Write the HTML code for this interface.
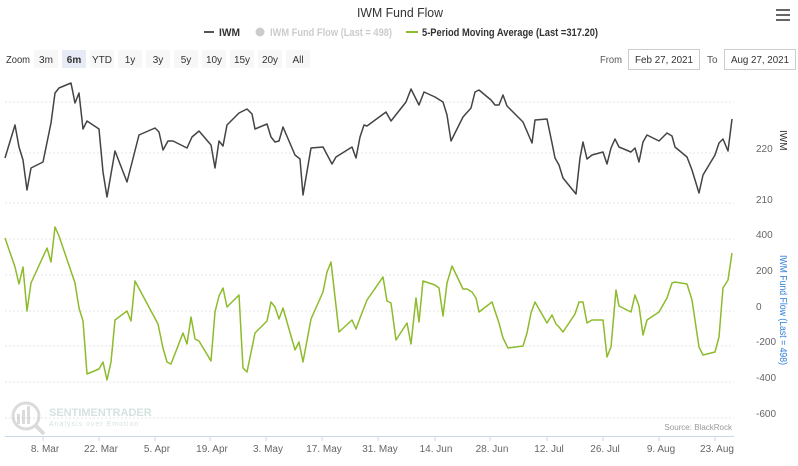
<!DOCTYPE html>
<html><head><style>
body{margin:0;background:#fff;font-family:"Liberation Sans",sans-serif;}
svg text{font-family:"Liberation Sans",sans-serif;}
</style></head><body>
<svg width="798" height="461" xmlns="http://www.w3.org/2000/svg">
<rect width="798" height="461" fill="#fff"/>
<text x="400" y="17" text-anchor="middle" font-size="13" fill="#333" textLength="86" lengthAdjust="spacingAndGlyphs">IWM Fund Flow</text>
<g fill="#666"><rect x="776" y="9" width="14" height="2"/><rect x="776" y="14" width="14" height="2"/><rect x="776" y="19" width="14" height="2"/></g>
<g font-size="11" font-weight="bold">
<rect x="204" y="31" width="10" height="2" fill="#555"/><text x="219" y="36" fill="#333" textLength="21" lengthAdjust="spacingAndGlyphs">IWM</text>
<circle cx="260" cy="32" r="4.5" fill="#ccc"/><text x="270" y="36" fill="#ccc" textLength="122" lengthAdjust="spacingAndGlyphs">IWM Fund Flow (Last = 498)</text>
<rect x="406" y="31" width="12" height="2" fill="#8dbb2c"/><text x="422" y="36" fill="#333" textLength="176" lengthAdjust="spacingAndGlyphs">5-Period Moving Average (Last =317.20)</text>
</g>
<g font-size="10" fill="#333">
<text x="6" y="63" textLength="24" lengthAdjust="spacingAndGlyphs">Zoom</text>
<rect x="34" y="50" width="24" height="18" fill="#f7f7f7"/><text x="46" y="63" text-anchor="middle">3m</text>
<rect x="62" y="50" width="24" height="18" fill="#e6ebf5"/><text x="74" y="63" text-anchor="middle" font-weight="bold">6m</text>
<rect x="90" y="50" width="24" height="18" fill="#f7f7f7"/><text x="102" y="63" text-anchor="middle">YTD</text>
<rect x="118" y="50" width="24" height="18" fill="#f7f7f7"/><text x="130" y="63" text-anchor="middle">1y</text>
<rect x="146" y="50" width="24" height="18" fill="#f7f7f7"/><text x="158" y="63" text-anchor="middle">3y</text>
<rect x="174" y="50" width="24" height="18" fill="#f7f7f7"/><text x="186" y="63" text-anchor="middle">5y</text>
<rect x="202" y="50" width="24" height="18" fill="#f7f7f7"/><text x="214" y="63" text-anchor="middle">10y</text>
<rect x="230" y="50" width="24" height="18" fill="#f7f7f7"/><text x="242" y="63" text-anchor="middle">15y</text>
<rect x="258" y="50" width="24" height="18" fill="#f7f7f7"/><text x="270" y="63" text-anchor="middle">20y</text>
<rect x="286" y="50" width="24" height="18" fill="#f7f7f7"/><text x="298" y="63" text-anchor="middle">All</text>
<text x="600" y="63" fill="#555" textLength="22" lengthAdjust="spacingAndGlyphs">From</text>
<rect x="628.5" y="49.5" width="71" height="20" fill="#fff" stroke="#ccc"/><text x="664" y="63" text-anchor="middle" textLength="58" lengthAdjust="spacingAndGlyphs">Feb 27, 2021</text>
<text x="707" y="63" fill="#555">To</text>
<rect x="724.5" y="49.5" width="71" height="20" fill="#fff" stroke="#ccc"/><text x="760" y="63" text-anchor="middle" textLength="58" lengthAdjust="spacingAndGlyphs">Aug 27, 2021</text>
</g>
<g stroke="#e6e6e6" stroke-dasharray="2,2">
<line x1="5" x2="734" y1="102" y2="102"/><line x1="5" x2="734" y1="153" y2="153"/><line x1="5" x2="734" y1="203" y2="203"/>
<line x1="5" x2="734" y1="239" y2="239"/><line x1="5" x2="734" y1="275" y2="275"/><line x1="5" x2="734" y1="311" y2="311"/><line x1="5" x2="734" y1="346" y2="346"/><line x1="5" x2="734" y1="382" y2="382"/><line x1="5" x2="734" y1="418" y2="418"/>
</g>
<g font-size="10" fill="#666">
<text x="756" y="152">220</text><text x="756" y="203">210</text>
<text x="756" y="238">400</text><text x="756" y="274">200</text><text x="756" y="310">0</text><text x="756" y="345">-200</text><text x="756" y="381">-400</text><text x="756" y="417">-600</text>
</g>
<text transform="translate(780,130) rotate(90)" font-size="10" fill="#333">IWM</text>
<text transform="translate(780,255) rotate(90)" font-size="10" fill="#2f7ed8" textLength="110" lengthAdjust="spacingAndGlyphs">IWM Fund Flow (Last = 498)</text>
<line x1="5" x2="734" y1="436.5" y2="436.5" stroke="#ccd6eb"/>
<g stroke="#ccd6eb"><line x1="43" x2="43" y1="436" y2="441"/><line x1="99" x2="99" y1="436" y2="441"/><line x1="155" x2="155" y1="436" y2="441"/><line x1="210" x2="210" y1="436" y2="441"/><line x1="266" x2="266" y1="436" y2="441"/><line x1="322" x2="322" y1="436" y2="441"/><line x1="378" x2="378" y1="436" y2="441"/><line x1="435" x2="435" y1="436" y2="441"/><line x1="490" x2="490" y1="436" y2="441"/><line x1="547" x2="547" y1="436" y2="441"/><line x1="603" x2="603" y1="436" y2="441"/><line x1="659" x2="659" y1="436" y2="441"/><line x1="715" x2="715" y1="436" y2="441"/></g>
<g font-size="10" fill="#666" text-anchor="middle">
<text x="45" y="452">8. Mar</text><text x="101" y="452">22. Mar</text><text x="157" y="452">5. Apr</text><text x="212" y="452">19. Apr</text><text x="268" y="452">3. May</text><text x="324" y="452">17. May</text><text x="380" y="452">31. May</text><text x="436" y="452">14. Jun</text><text x="492" y="452">28. Jun</text><text x="549" y="452">12. Jul</text><text x="605" y="452">26. Jul</text><text x="661" y="452">9. Aug</text><text x="717" y="452">23. Aug</text>
</g>
<text x="732" y="430" font-size="8" fill="#999" text-anchor="end">Source: BlackRock</text>
<g opacity="0.35">
<circle cx="26" cy="416" r="13" fill="none" stroke="#999" stroke-width="3"/>
<rect x="17" y="414" width="3" height="10" fill="#999"/><rect x="22" y="410" width="3" height="14" fill="#999"/><rect x="27" y="406" width="3" height="18" fill="#999"/>
<line x1="35" y1="425" x2="44" y2="434" stroke="#999" stroke-width="4"/>
<text x="49" y="416" font-size="11" font-weight="bold" fill="#8aa">SENTIMENTRADER</text>
<text x="49" y="426" font-size="7" fill="#8aa" letter-spacing="1">Analysis over Emotion</text>
</g>
<polyline fill="none" stroke="#434348" stroke-width="1.5" stroke-linejoin="round" points="5,158 15,125 19,147 23,160 27,190 31,168 43,162 51,123 55,93 59,88 71,83 75,103 79,93 83,129 87,121 99,129 103,172 107,197 115,151 127,182 139,135 155,128 159,132 163,150 168,141 173,141 187,148 192,137 199,131 211,145 215,168 219,141 223,146 227,125 239,113 247,109 252,114 255,129 267,124 271,137 275,142 279,141 283,127 295,155 300,159 303,195 311,148 323,147 332,164 336,157 352,147 356,158 360,137 364,125 367,126 386,112 391,121 406,102 411,89 419,105 424,92 435,97 443,102 447,115 451,141 463,117 471,108 475,92 479,90 491,100 495,105 499,105 503,95 507,106 523,122 532,143 535,120 547,119 552,143 555,158 559,165 563,178 576,194 580,158 583,142 587,159 592,155 603,152 607,164 611,148 615,139 619,147 631,152 635,148 639,162 643,142 647,135 659,141 667,133 672,136 675,147 687,157 692,170 699,193 703,175 715,155 719,143 723,139 728,151 732,119"/>
<polyline fill="none" stroke="#8dbb2c" stroke-width="1.5" stroke-linejoin="round" points="5,238 15,267 19,284 23,267 27,311 31,283 47,248 51,262 55,227 59,236 75,283 79,308 83,321 87,374 99,369 103,362 107,380 111,362 115,320 127,311 131,321 135,281 158,324 163,348 167,362 171,364 183,333 187,344 191,317 195,339 199,341 211,361 215,312 219,296 223,288 227,307 239,295 243,368 247,372 255,333 267,321 271,302 275,307 279,319 283,308 295,350 299,342 303,362 311,319 323,292 327,272 331,262 339,332 352,320 356,329 360,318 367,300 383,277 387,301 391,303 396,340 407,323 411,344 416,298 419,322 423,281 435,285 439,288 443,316 447,283 452,266 463,289 467,289 472,292 476,298 479,312 492,302 499,323 503,338 508,348 523,346 527,333 531,313 535,302 547,323 552,315 556,324 559,327 563,332 575,314 579,302 583,302 587,323 592,320 603,320 607,357 611,347 616,290 619,306 631,312 635,295 639,306 643,335 647,320 659,312 667,298 672,283 675,282 687,284 692,300 699,347 703,355 715,352 719,337 723,288 728,280 732,253"/>
</svg>
</body></html>
